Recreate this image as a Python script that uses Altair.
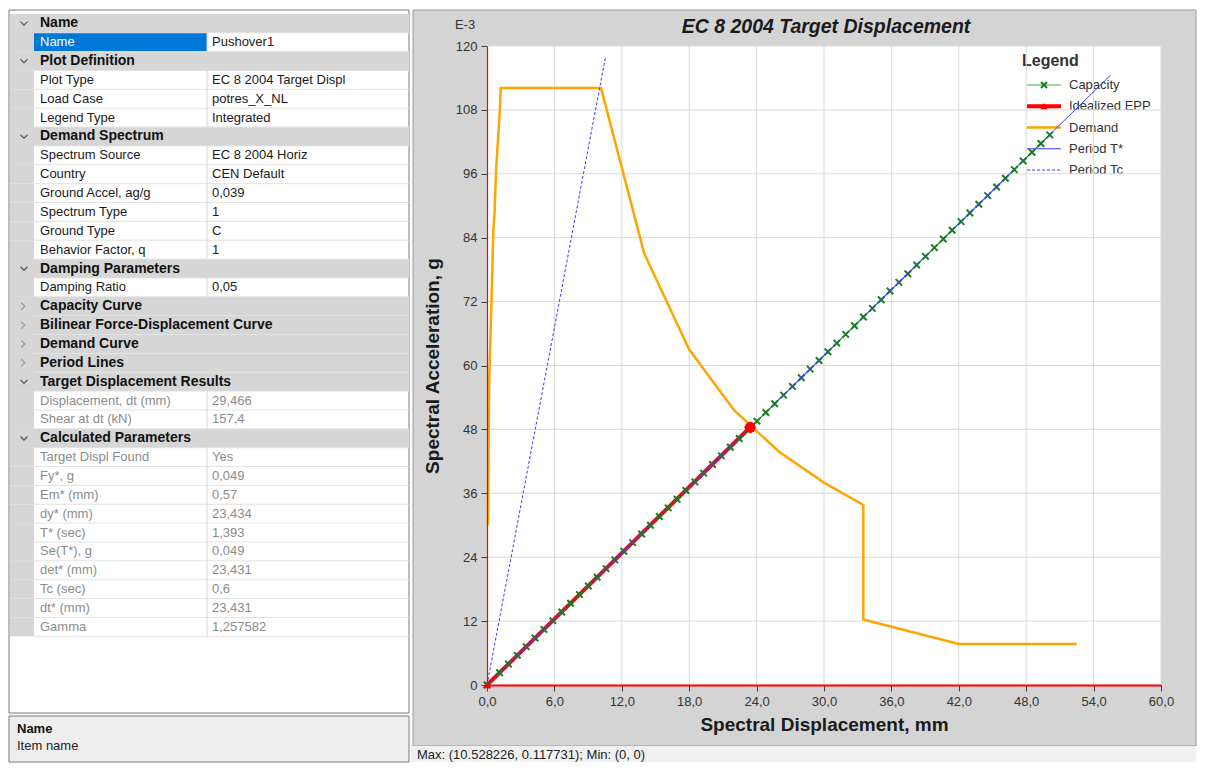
import altair as alt
import pandas as pd

FONT = "Liberation Sans"

# ---------------- chart data ----------------
x_ticks = [0, 6, 12, 18, 24, 30, 36, 42, 48, 54, 60]
y_ticks = [0, 12, 24, 36, 48, 60, 72, 84, 96, 108, 120]

demand_x = [0.08, 0.15, 0.2, 0.33, 0.45, 0.56, 0.68, 0.8, 0.92, 1.04, 1.16, 1.22,
            10.15, 14.0, 18.0, 22.0, 26.0, 30.0, 33.5, 33.5, 42.0, 52.5]
demand_y = [30.0, 48.0, 57.5, 67.0, 76.0, 85.0, 89.0, 96.5, 100.5, 104.5, 108.5, 112.1,
            112.1, 81.0, 63.0, 51.6, 43.8, 38.0, 33.8, 12.3, 7.7, 7.7]

capacity_x = [0.0, 1.12, 1.91, 2.70, 3.49, 4.28, 5.07, 5.86, 6.65, 7.44, 8.23, 9.02, 9.81,
              10.60, 11.39, 12.18, 12.97, 13.76, 14.55, 15.34, 16.13, 16.92, 17.71, 18.50,
              19.29, 20.08, 20.87, 21.66, 22.45, 23.24, 24.03, 24.82, 25.61, 26.40, 27.19,
              27.98, 28.77, 29.56, 30.35, 31.14, 31.93, 32.72, 33.51, 34.30, 35.09, 35.88,
              36.67, 37.46, 38.25, 39.04, 39.83, 40.62, 41.41, 42.20, 42.99, 43.78, 44.57,
              45.36, 46.15, 46.94, 47.73, 48.52, 49.31, 50.10]
capacity_y = [0.0, 2.31, 3.94, 5.57, 7.20, 8.83, 10.45, 12.08, 13.71, 15.34, 16.97, 18.60,
              20.23, 21.86, 23.49, 25.12, 26.74, 28.37, 30.00, 31.63, 33.26, 34.89, 36.52,
              38.15, 39.78, 41.40, 43.03, 44.66, 46.29, 47.92, 49.55, 51.18, 52.81, 54.44,
              56.07, 57.69, 59.32, 60.95, 62.58, 64.21, 65.84, 67.47, 69.10, 70.73, 72.36,
              73.98, 75.61, 77.24, 78.87, 80.50, 82.13, 83.76, 85.39, 87.02, 88.65, 90.27,
              91.90, 93.53, 95.16, 96.79, 98.42, 100.05, 101.68, 103.31]

epp_x = [0.0, 23.434]
epp_y = [0.0, 48.4]
target_x = [23.431]
target_y = [48.4]
period_t_x = [0.0, 55.5]
period_t_y = [0.0, 114.5]
period_tc_x = [0.0, 10.528226]
period_tc_y = [0.0, 117.731]

legend_names = ["Capacity", "Idealized EPP", "Demand", "Period T*", "Period Tc"]

# ---------------- property grid data ----------------
grid_labels = ["Name", "Name", "Plot Definition", "Plot Type", "Load Case", "Legend Type",
               "Demand Spectrum", "Spectrum Source", "Country", "Ground Accel, ag/g",
               "Spectrum Type", "Ground Type", "Behavior Factor, q", "Damping Parameters",
               "Damping Ratio", "Capacity Curve", "Bilinear Force-Displacement Curve",
               "Demand Curve", "Period Lines", "Target Displacement Results",
               "Displacement, dt (mm)", "Shear at dt (kN)", "Calculated Parameters",
               "Target Displ Found", "Fy*, g", "Em* (mm)", "dy* (mm)", "T* (sec)",
               "Se(T*), g", "det* (mm)", "Tc (sec)", "dt* (mm)", "Gamma"]
grid_values = ["", "Pushover1", "", "EC 8 2004 Target Displ", "potres_X_NL", "Integrated",
               "", "EC 8 2004 Horiz", "CEN Default", "0,039", "1", "C", "1", "", "0,05",
               "", "", "", "", "", "29,466", "157,4", "", "Yes", "0,049", "0,57", "23,434",
               "1,393", "0,049", "23,431", "0,6", "23,431", "1,257582"]
grid_kinds = ["open", "sel", "open", "item", "item", "item", "open", "item", "item", "item",
              "item", "item", "item", "open", "item", "closed", "closed", "closed", "closed",
              "open", "ro", "ro", "open", "ro", "ro", "ro", "ro", "ro", "ro", "ro", "ro",
              "ro", "ro"]

status_text = "Max: (10.528226, 0.117731);   Min: (0, 0)"

# ---------------- helpers ----------------
one = pd.DataFrame({"k": [0]})


def box(x1, x2, y1, y2, fill, stroke=None, sw=1.0):
    kw = dict(fill=fill)
    if stroke is not None:
        kw.update(stroke=stroke, strokeWidth=sw)
    return alt.Chart(one).mark_rect(**kw).encode(
        x=alt.value(x1), x2=alt.value(x2), y=alt.value(y1), y2=alt.value(y2))


def label(txt, x, y, size=12, weight="normal", style="normal", color="#222222", align="left"):
    return alt.Chart(one).mark_text(
        text=txt, fontSize=size, fontWeight=weight, fontStyle=style, color=color,
        align=align, baseline="middle", font=FONT).encode(x=alt.value(x), y=alt.value(y))


XPATH = "M-1,-1L1,1M-1,1L1,-1"
GREEN_LINE = "#3cb043"
GREEN_MARK = "#17801a"
BLUE = "#3a3aff"

# ---------------- main plot ----------------
xs = alt.Scale(domain=[0, 60], nice=False, zero=False)
ys = alt.Scale(domain=[0, 120], nice=False, zero=False)
xaxis = alt.Axis(values=x_ticks, grid=False, zindex=1, orient="bottom",
                 title="Spectral Displacement, mm",
                 labelExpr="replace(format(datum.value, '.1f'), '.', ',')",
                 labelFlush=False, labelOverlap=False, domainColor="#ff0000", domainWidth=2,
                 tickColor="#404040", tickSize=6, labelPadding=4, labelFontSize=13,
                 labelColor="#333333", labelFont=FONT, titleFont=FONT, titleFontSize=19,
                 titleFontWeight="bold", titleColor="#1a1a1a", titlePadding=7)
yaxis = alt.Axis(values=y_ticks, grid=False, zindex=1, orient="left",
                 title="Spectral Acceleration, g", format="d",
                 labelFlush=False, labelOverlap=False, domainColor="#ff0000", domainWidth=1.2,
                 tickColor="#404040", tickSize=6, labelPadding=4, labelFontSize=13,
                 labelColor="#333333", labelFont=FONT, titleFont=FONT, titleFontSize=19,
                 titleFontWeight="bold", titleColor="#1a1a1a", titlePadding=13)


def X():
    return alt.X("x:Q", scale=xs, axis=xaxis)


def Y():
    return alt.Y("y:Q", scale=ys, axis=yaxis)


def series_df(xv, yv):
    return pd.DataFrame({"x": xv, "y": yv, "i": list(range(len(xv)))})


vgrid = alt.Chart(pd.DataFrame({"x": x_ticks[1:]})).mark_rule(
    color="#d9d9d9", strokeWidth=1).encode(x=X(), y=alt.value(0), y2=alt.value("height"))
hgrid = alt.Chart(pd.DataFrame({"y": y_ticks[1:]})).mark_rule(
    color="#d9d9d9", strokeWidth=1).encode(y=Y(), x=alt.value(0), x2=alt.value("width"))

demand = alt.Chart(series_df(demand_x, demand_y)).mark_line(
    color="#ffa500", strokeWidth=2.5).encode(x=X(), y=Y(), order="i:Q")
cap_line = alt.Chart(series_df(capacity_x, capacity_y)).mark_line(
    color=GREEN_LINE, strokeWidth=1.2).encode(x=X(), y=Y(), order="i:Q")
epp_line = alt.Chart(series_df(epp_x, epp_y)).mark_line(
    color="#ff0000", strokeWidth=4).encode(x=X(), y=Y(), order="i:Q")
cap_pts = alt.Chart(series_df(capacity_x, capacity_y)).mark_point(
    shape=XPATH, filled=False, size=42, strokeWidth=2, color=GREEN_MARK, opacity=1).encode(x=X(), y=Y())
epp_pts = alt.Chart(series_df(epp_x, epp_y)).mark_point(
    shape="triangle-up", filled=True, size=60, color="#ff0000", opacity=1).encode(x=X(), y=Y())
pt_line = alt.Chart(series_df(period_t_x, period_t_y)).mark_line(
    color=BLUE, strokeWidth=1).encode(x=X(), y=Y(), order="i:Q")
tc_line = alt.Chart(series_df(period_tc_x, period_tc_y)).mark_line(
    color=BLUE, strokeWidth=1, strokeDash=[3, 2]).encode(x=X(), y=Y(), order="i:Q")
target = alt.Chart(series_df(target_x, target_y)).mark_point(
    shape="circle", filled=True, size=120, color="#ff0000", opacity=1).encode(x=X(), y=Y())

main = alt.layer(vgrid, hgrid, demand, cap_line, epp_line, cap_pts, epp_pts, pt_line,
                 tc_line, target)

# ---------------- legend (drawn inside plot) ----------------
leg_df = pd.DataFrame({"series": legend_names})
lscale = alt.Scale(type="point", domain=legend_names, range=[39, 124], padding=0)
LY = alt.Y("series:N", scale=lscale, axis=None)


def leg_line(name, color, width, dash):
    return alt.Chart(leg_df).transform_filter(alt.datum.series == name).mark_rule(
        color=color, strokeWidth=width, strokeDash=dash).encode(
        x=alt.value(540), x2=alt.value(574), y=LY)


leg_lines = [
    leg_line("Capacity", GREEN_LINE, 1.2, [1, 0]),
    leg_line("Idealized EPP", "#ff0000", 4, [1, 0]),
    leg_line("Demand", "#ffa500", 2.5, [1, 0]),
    leg_line("Period T*", BLUE, 1, [1, 0]),
    leg_line("Period Tc", BLUE, 1, [3, 2]),
]
leg_cap = alt.Chart(leg_df).transform_filter(alt.datum.series == "Capacity").mark_point(
    shape=XPATH, filled=False, size=36, strokeWidth=2, color=GREEN_MARK, opacity=1).encode(
    x=alt.value(557), y=LY)
leg_epp = alt.Chart(leg_df).transform_filter(alt.datum.series == "Idealized EPP").mark_point(
    shape="triangle-up", filled=True, size=60, color="#ff0000", opacity=1).encode(
    x=alt.value(557), y=LY)
leg_txt = alt.Chart(leg_df).mark_text(
    align="left", baseline="middle", fontSize=13, font=FONT, color="#333333").encode(
    x=alt.value(582), y=LY, text="series:N")
leg_title = label("Legend", 535, 15, size=16, weight="bold", color="#333333")
legend = alt.layer(*leg_lines, leg_cap, leg_epp, leg_txt, leg_title)

# ---------------- property grid ----------------
grid_df = pd.DataFrame({"row": list(range(len(grid_labels))), "label": grid_labels,
                        "value": grid_values, "kind": grid_kinds})
gscale = alt.Scale(domain=[0, 33], range=[-32.1, 590.3], zero=False, nice=False)
gbase = alt.Chart(grid_df).transform_calculate(
    row_end="datum.row + 1", row_mid="datum.row + 0.5")
GY = alt.Y("row:Q", scale=gscale, axis=None)
GY2 = alt.Y2("row_end:Q")
GYM = alt.Y("row_mid:Q", scale=gscale, axis=None)
GYE = alt.Y("row_end:Q", scale=gscale, axis=None)
HEAD = alt.FieldOneOfPredicate(field="kind", oneOf=["open", "closed"])
ITEMS = alt.FieldOneOfPredicate(field="kind", oneOf=["item", "sel", "ro"])
GRAY = "#d6d6d6"

hdr_bg = gbase.transform_filter(HEAD).mark_rect(fill=GRAY).encode(
    x=alt.value(-477), x2=alt.value(-78), y=GY, y2=GY2)
margin = gbase.mark_rect(fill=GRAY).encode(x=alt.value(-477), x2=alt.value(-453), y=GY, y2=GY2)
sel_bg = gbase.transform_filter(alt.datum.kind == "sel").mark_rect(fill="#0078d7").encode(
    x=alt.value(-453), x2=alt.value(-280), y=GY, y2=GY2)
seps = gbase.mark_rule(color="#e2e2e2").encode(x=alt.value(-453), x2=alt.value(-78), y=GYE)
divider = gbase.transform_filter(ITEMS).mark_rule(color="#d4d4d4").encode(
    x=alt.value(-280), y=GY, y2=GY2)
chev_open = gbase.transform_filter(alt.datum.kind == "open").mark_point(
    shape="M-1,-0.5L0,0.5L1,-0.5", filled=False, size=50, strokeWidth=1.2,
    color="#555555", opacity=1).encode(x=alt.value(-463), y=GYM)
chev_closed = gbase.transform_filter(alt.datum.kind == "closed").mark_point(
    shape="M-0.5,-1L0.5,0L-0.5,1", filled=False, size=50, strokeWidth=1.2,
    color="#999999", opacity=1).encode(x=alt.value(-464), y=GYM)


def grid_text(pred, field, x, color, size=13, weight="normal"):
    return gbase.transform_filter(pred).mark_text(
        align="left", baseline="middle", fontSize=size, fontWeight=weight, font=FONT,
        color=color).encode(x=alt.value(x), y=GYM, text=f"{field}:N")


hdr_txt = grid_text(HEAD, "label", -447, "#111111", size=14, weight="bold")
item_txt = grid_text(alt.datum.kind == "item", "label", -447, "#1a1a1a")
sel_txt = grid_text(alt.datum.kind == "sel", "label", -447, "#ffffff")
ro_txt = grid_text(alt.datum.kind == "ro", "label", -447, "#8c8c8c")
val_txt = grid_text(alt.FieldOneOfPredicate(field="kind", oneOf=["item", "sel"]),
                    "value", -275, "#1a1a1a")
val_ro = grid_text(alt.datum.kind == "ro", "value", -275, "#8c8c8c")

left_panel = alt.layer(hdr_bg, margin, sel_bg, seps, divider, chev_open, chev_closed,
                       hdr_txt, item_txt, sel_txt, ro_txt, val_txt, val_ro)

# ---------------- chrome ----------------
RIGHT = 709
BOTTOM = 716
bg = box(-479, RIGHT, -38, BOTTOM, "#ffffff")
chart_panel = box(-74, RIGHT, -36, 700, "#d4d4d4", stroke="#9a9a9a")
status_bar = box(-76, RIGHT, 700, BOTTOM, "#f0f0f0")
grid_frame = box(-478, -78, -36, 667, "#ffffff", stroke="#7a7a7a")
desc_pane = box(-478, -78, 670, BOTTOM, "#eeeeee", stroke="#7a7a7a")
plot_white = box(0, "width", 0, "height", "#ffffff")

desc_t1 = label("Name", -470, 683, size=13, weight="bold", color="#111111")
desc_t2 = label("Item name", -470, 700, size=13, color="#222222")
title = label("EC 8 2004 Target Displacement", 339, -19, size=19.5, weight="bold",
              style="italic", color="#1a1a1a", align="center")
e3 = label("E-3", -22, -21, size=13, color="#333333", align="center")
status = label(status_text, -70, 709, size=13, color="#222222")

chart = alt.layer(
    bg, chart_panel, status_bar, grid_frame, desc_pane, left_panel, desc_t1, desc_t2,
    plot_white, title, e3, status, legend, main
).resolve_scale(
    x="independent", y="independent", color="independent"
).properties(
    width=674, height=639, padding=0, background="#ffffff"
).configure_view(stroke="transparent")

chart.save("out.html", embed_options={"renderer": "svg", "actions": False})
